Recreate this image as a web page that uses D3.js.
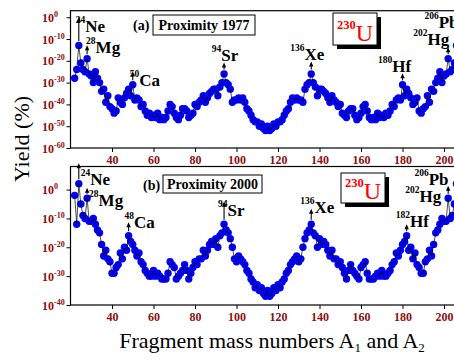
<!DOCTYPE html>
<html><head><meta charset="utf-8">
<script src="https://cdn.jsdelivr.net/npm/d3@7"></script>
<style>body{margin:0;background:#fff}svg{display:block}</style>
</head><body>
<svg id="chart" width="454" height="362"></svg>
<script>
// ---------------- data ----------------
const parentMass = 230;               // 230U : A2 = 230 - A1
const massA1 = [22,23,24,25,26,27,28,29,30,31,
  32,33,34,35,36,37,38,39,40,41,
  42,43,44,45,46,47,48,49,50,51,
  52,53,54,55,56,57,58,59,60,61,
  62,63,64,65,66,67,68,69,70,71,
  72,73,74,75,76,77,78,79,80,81,
  82,83,84,85,86,87,88,89,90,91,
  92,93,94,95,96,97,98,99,100,101,
  102,103,104,105,106,107,108,109,110,111,
  112,113,114,115];
// log10 of yield (%)
const log10Yield1977 = [-28,-24,-13,-21,-24,-25,-19,-26,-27,-30,
  -25,-28,-30,-34,-33,-39,-36,-41,-42,-44,
  -43,-37,-39,-40,-37,-35,-33,-36,-31,-38,
  -37,-38,-41,-40,-43,-45,-44,-46,-45,-46,
  -44,-47,-46,-47,-46,-43,-40,-41,-44,-46,
  -47,-45,-42,-42,-43,-46,-45,-44,-40,-41,
  -39,-38,-36,-39,-37,-35,-34,-33,-33,-36,
  -32,-30,-26,-30,-31,-33,-39,-38,-38,-37,
  -38,-37,-39,-42,-43,-45,-47,-48,-48,-50,
  -49,-51,-52,-50];
const log10Yield2000 = [-2,-12,2,-5,-9,-10,-3,-11,-11,-10,
  -12,-14,-15,-19,-23,-21,-24,-25,-29,-29,
  -27,-26,-22,-24,-20,-21,-16,-18,-19,-21,
  -23,-22,-25,-26,-28,-29,-30,-30,-28,-30,
  -29,-30,-31,-31,-31,-29,-25,-26,-27,-31,
  -30,-29,-28,-26,-28,-31,-29,-27,-25,-26,
  -24,-24,-21,-23,-21,-19,-18,-19,-17,-20,
  -16,-15,-12,-14,-15,-17,-20,-24,-25,-23,
  -24,-25,-26,-28,-29,-31,-32,-34,-33,-35,
  -34,-36,-37,-35];
const xTicks = [40,60,80,100,120,140,160,180,200];
const yTickExpTop = [0,-10,-20,-30,-40,-50,-60];
const yTickExpBottom = [0,-10,-20,-30,-40];
const peakMass1977 = [24,28,50,94,136,180,202,206];
const peakElem1977 = ["Ne","Mg","Ca","Sr","Xe","Hf","Hg","Pb"];
const peakMass2000 = [24,28,48,94,136,182,202,206];
const peakElem2000 = ["Ne","Mg","Ca","Sr","Xe","Hf","Hg","Pb"];

// ---------------- layout ----------------
const FONT = "'Liberation Serif','Times New Roman',Times,serif";
const TICKCOL = "#8b1010";
const svg = d3.select("#chart");
const x = d3.scaleLinear().domain([20,205]).range([70.5,454.4]);
const R = 3.7;

const panels = [
  {id:"a", y: d3.scaleLog().domain([1e-60,1e3]).range([148,10.7]), top:10.7, bottom:148,
   logs: log10Yield1977, ticks: yTickExpTop, peaks: peakMass1977, elems: peakElem1977,
   tag:"(a)", tagX:133, tagY:30, box:[153,15,102,20], boxText:"Proximity 1977",
   ubox:[333,13,44,32],
   ann:[ // arrow length, anchor, dx, dy (relative to arrow tip)
     [24,"start",-3,15],[9,"start",-1,8],[9,"start",-3,15],[7,"middle",1,-1],
     [8,"middle",-4,-1],[7,"middle",-8,-1],[7,"end",1,-2],[9,"end",2,-4]]},
  {id:"b", y: d3.scaleLog().domain([1e-40,1e8]).range([305,166.5]), top:166.5, bottom:305,
   logs: log10Yield2000, ticks: yTickExpBottom, peaks: peakMass2000, elems: peakElem2000,
   tag:"(b)", tagX:143, tagY:190, box:[163,175,99,18], boxText:"Proximity 2000",
   ubox:[341,173,44,30],
   ann:[
     [16,"start",2,22],[6,"start",2,18],[9,"start",-4,6],[18,"start",-6,14],
     [11,"start",-11,4],[7,"start",-11,3],[8,"end",-7,16],[10,"end",-8,16]]}
];

panels.forEach((p,pi) => {
  const g = svg.append("g");
  const clipId = "clip"+p.id;
  svg.append("defs").append("clipPath").attr("id",clipId).append("rect")
    .attr("x",x.range()[0]).attr("y",p.top).attr("width",x.range()[1]-x.range()[0]+10)
    .attr("height",p.bottom-p.top);

  // points: A1 and complementary A2
  let pts = [];
  massA1.forEach((a,i) => {
    const v = Math.pow(10,p.logs[i]);
    pts.push({A:a, v});
    if (parentMass - a !== a) pts.push({A:parentMass - a, v});
  });
  pts.sort((u,w)=>u.A-w.A);
  const lookup = new Map(pts.map(d=>[d.A,d.v]));

  const pg = g.append("g").attr("clip-path",`url(#${clipId})`);
  pg.selectAll("circle").data(pts).join("circle")
    .attr("cx",d=>x(d.A)).attr("cy",d=>p.y(d.v)).attr("r",R).attr("fill","#0000ff");
  pg.append("path").datum(pts)
    .attr("d",d3.line().x(d=>x(d.A)).y(d=>p.y(d.v)))
    .attr("fill","none").attr("stroke","#000").attr("stroke-width",0.7);

  // frame
  g.append("rect").attr("x",x.range()[0]).attr("y",p.top)
    .attr("width",x.range()[1]-x.range()[0]+6).attr("height",p.bottom-p.top)
    .attr("fill","none").attr("stroke","#000").attr("stroke-width",1.2);

  // x axis
  const xa = g.append("g").attr("transform",`translate(0,${p.bottom})`)
    .call(d3.axisBottom(x).tickValues(xTicks).tickSize(4).tickPadding(3).tickFormat(d3.format("d")));
  xa.select(".domain").remove();
  xa.selectAll("line").attr("stroke","#000").attr("stroke-width",1);
  xa.selectAll("text").attr("font-family",FONT).attr("font-weight","bold")
    .attr("font-size","12px").attr("fill",TICKCOL);

  // y axis
  const ya = g.append("g").attr("transform",`translate(${x.range()[0]},0)`)
    .call(d3.axisLeft(p.y).tickValues(p.ticks.map(e=>Math.pow(10,e))).tickSize(4).tickFormat(""));
  ya.select(".domain").remove();
  ya.selectAll("line").attr("stroke","#000").attr("stroke-width",1);
  p.ticks.forEach(e => {
    const t = g.append("text").attr("x",42).attr("y",p.y(Math.pow(10,e))+4.5)
      .attr("font-family",FONT).attr("font-weight","bold").attr("fill",TICKCOL);
    t.append("tspan").attr("font-size","12px").text("10");
    t.append("tspan").attr("font-size","8px").attr("dy",-5).text(e===0?"0":String(e));
  });

  // peak annotations
  p.peaks.forEach((m,i) => {
    const [len,anchor,dx,dy] = p.ann[i];
    const ax = x(m), ay = p.y(lookup.get(m)) - R - 0.8;
    const tipY = ay - len;
    g.append("line").attr("x1",ax).attr("x2",ax).attr("y1",ay).attr("y2",tipY+3)
      .attr("stroke","#000").attr("stroke-width",1.1);
    g.append("path").attr("d",`M${ax-2.2},${tipY+5} L${ax},${tipY} L${ax+2.2},${tipY+5} Z`).attr("fill","#000");
    const t = g.append("text").attr("x",ax+dx).attr("y",tipY+dy).attr("text-anchor",anchor)
      .attr("font-family",FONT).attr("font-weight","bold").attr("fill","#000");
    t.append("tspan").attr("font-size","9.5px").attr("dy",-9).text(m);
    t.append("tspan").attr("font-size","17px").attr("dy",9).text(p.elems[i]);
  });

  // panel tag and method box
  g.append("text").attr("x",p.tagX).attr("y",p.tagY).attr("font-family",FONT)
    .attr("font-weight","bold").attr("font-size","14px").text(p.tag);
  g.append("rect").attr("x",p.box[0]).attr("y",p.box[1]).attr("width",p.box[2]).attr("height",p.box[3])
    .attr("fill","#fff").attr("stroke","#000").attr("stroke-width",1);
  g.append("text").attr("x",p.box[0]+p.box[2]/2).attr("y",p.box[1]+p.box[3]/2+5)
    .attr("text-anchor","middle").attr("font-family",FONT).attr("font-weight","bold")
    .attr("font-size","14px").text(p.boxText);

  // 230U box with shadow
  const [ux,uy,uw,uh] = p.ubox;
  g.append("rect").attr("x",ux+4).attr("y",uy+4).attr("width",uw).attr("height",uh).attr("fill","#000");
  g.append("rect").attr("x",ux).attr("y",uy).attr("width",uw).attr("height",uh)
    .attr("fill","#fff").attr("stroke","#000").attr("stroke-width",1);
  const ut = g.append("text").attr("x",ux+uw/2).attr("y",uy+uh-4).attr("text-anchor","middle")
    .attr("font-family",FONT).attr("fill","#ff0000");
  ut.append("tspan").attr("font-size","12.5px").attr("font-weight","bold").attr("dy",-12).text(parentMass);
  ut.append("tspan").attr("font-size","24px").attr("dy",12).text("U");
});

// axis titles
const xt = svg.append("text").attr("x",272).attr("y",348).attr("text-anchor","middle")
  .attr("font-family",FONT).attr("font-size","22px").attr("fill","#000");
xt.append("tspan").text("Fragment mass numbers A");
xt.append("tspan").attr("font-size","13px").attr("dy",4).text("1");
xt.append("tspan").attr("dy",-4).text(" and A");
xt.append("tspan").attr("font-size","13px").attr("dy",4).text("2");

svg.append("text").attr("transform","translate(29,139) rotate(-90)").attr("text-anchor","middle")
  .attr("font-family",FONT).attr("font-size","22px").attr("fill","#000").text("Yield (%)");
</script>
</body></html>
